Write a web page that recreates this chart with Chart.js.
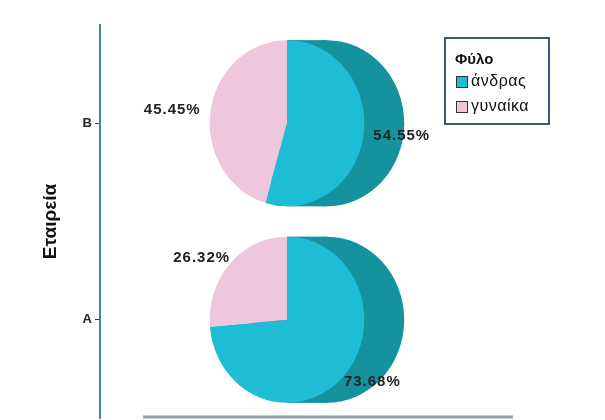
<!DOCTYPE html>
<html>
<head>
<meta charset="utf-8">
<script src="https://cdn.jsdelivr.net/npm/chart.js@4.4.1/dist/chart.umd.min.js"></script>
<style>
  html, body { margin: 0; padding: 0; background: #fff; }
</style>
</head>
<body>
<canvas id="pieChart" width="605" height="420"></canvas>
<script>
const companies = ["B", "A"];
const genders = ["άνδρας", "γυναίκα"];
const menPct = [54.55, 73.68];
const womenPct = [45.45, 26.32];

const genderColors = ["#1fbcd6", "#efc7dc"];
const sideColor = "#14939f";
const font = "Liberation Sans, Arial, sans-serif";

// 3D pies, one per company, centred on the scatter point the library places
const pie3d = {
  id: "pie3d",
  afterDatasetsDraw(chart) {
    const ctx = chart.ctx;
    const meta = chart.getDatasetMeta(0);
    const yScale = chart.scales.y;
    const step = Math.abs(yScale.getPixelForValue(1) - yScale.getPixelForValue(0));
    const ry = step * 0.423;
    const rx = ry * 0.93;
    const depth = ry * 0.48;

    meta.data.forEach((pt, i) => {
      const cx = pt.x;
      const cy = pt.y;
      const values = [menPct[i], womenPct[i]];
      const total = values[0] + values[1];

      // side of the cylinder
      ctx.save();
      ctx.fillStyle = sideColor;
      ctx.beginPath();
      ctx.ellipse(cx + depth, cy, rx, ry, 0, 0, Math.PI * 2);
      ctx.fill();
      ctx.fillRect(cx, cy - ry, depth, ry * 2);
      ctx.restore();

      // front face
      let start = -Math.PI / 2;
      const mids = [];
      values.forEach((v, k) => {
        const end = start + (Math.PI * 2 * v) / total;
        ctx.save();
        ctx.translate(cx, cy);
        ctx.scale(rx / ry, 1);
        ctx.fillStyle = genderColors[k];
        ctx.beginPath();
        ctx.moveTo(0, 0);
        ctx.arc(0, 0, ry, start, end);
        ctx.closePath();
        ctx.fill();
        ctx.restore();
        mids.push((start + end) / 2);
        start = end;
      });

      // percentage labels
      ctx.save();
      ctx.font = "bold 15px " + font;
      ctx.letterSpacing = "1px";
      ctx.fillStyle = "#222";
      ctx.textAlign = "center";
      ctx.textBaseline = "middle";
      values.forEach((v, k) => {
        const a = mids[k];
        const lx = cx + Math.cos(a) * rx * 1.5;
        const ly = cy + Math.sin(a) * ry * 1.1;
        ctx.fillText(v.toFixed(2) + "%", lx, ly);
      });
      ctx.restore();
    });
  },
  afterDraw(chart) {
    const ctx = chart.ctx;
    // cut-off line at the bottom
    ctx.save();
    ctx.strokeStyle = "#8aa0b3";
    ctx.lineWidth = 3;
    ctx.beginPath();
    ctx.moveTo(143, 417);
    ctx.lineTo(513, 417);
    ctx.stroke();
    ctx.restore();

    // boxed legend
    ctx.save();
    ctx.strokeStyle = "#3d5874";
    ctx.lineWidth = 2;
    ctx.strokeRect(445, 38, 104, 86);
    ctx.fillStyle = "#111";
    ctx.font = "bold 15px " + font;
    ctx.textBaseline = "middle";
    ctx.fillText("Φύλο", 455, 60);
    ctx.font = "16px " + font;
    ctx.letterSpacing = "0.5px";
    genders.forEach((g, k) => {
      const y = 76 + k * 25;
      ctx.fillStyle = genderColors[k];
      ctx.fillRect(456, y, 12, 12);
      ctx.strokeStyle = "#333";
      ctx.lineWidth = 1;
      ctx.strokeRect(456.5, y + 0.5, 11, 11);
      ctx.fillStyle = "#111";
      ctx.fillText(g, 471, y + 6);
    });
    ctx.restore();
  },
};

new Chart(document.getElementById("pieChart"), {
  type: "scatter",
  data: {
    datasets: [
      {
        data: companies.map((c) => ({ x: 0, y: c })),
        pointRadius: 0,
        pointHoverRadius: 0,
      },
    ],
  },
  options: {
    responsive: false,
    animation: false,
    layout: { padding: { top: 25, right: 131, bottom: 2, left: 0 } },
    scales: {
      x: { type: "linear", min: -1, max: 1, display: false },
      y: {
        type: "category",
        labels: companies,
        offset: true,
        afterFit: (scale) => {
          scale.width = 100;
          scale.paddingTop = 0;
          scale.paddingBottom = 0;
        },
        border: { display: true, color: "#4d7ea6", width: 2 },
        grid: {
          display: true,
          drawOnChartArea: false,
          drawTicks: true,
          tickLength: 5,
          tickColor: "#333",
        },
        ticks: {
          color: "#222",
          padding: 3,
          font: { size: 13, weight: "bold", family: font },
        },
        title: {
          display: true,
          text: "Εταιρεία",
          color: "#111",
          font: { size: 19, weight: "bold", family: font },
          padding: { top: 39, bottom: 0 },
        },
      },
    },
    plugins: {
      legend: { display: false },
      tooltip: { enabled: false },
    },
  },
  plugins: [pie3d],
});
</script>
</body>
</html>
